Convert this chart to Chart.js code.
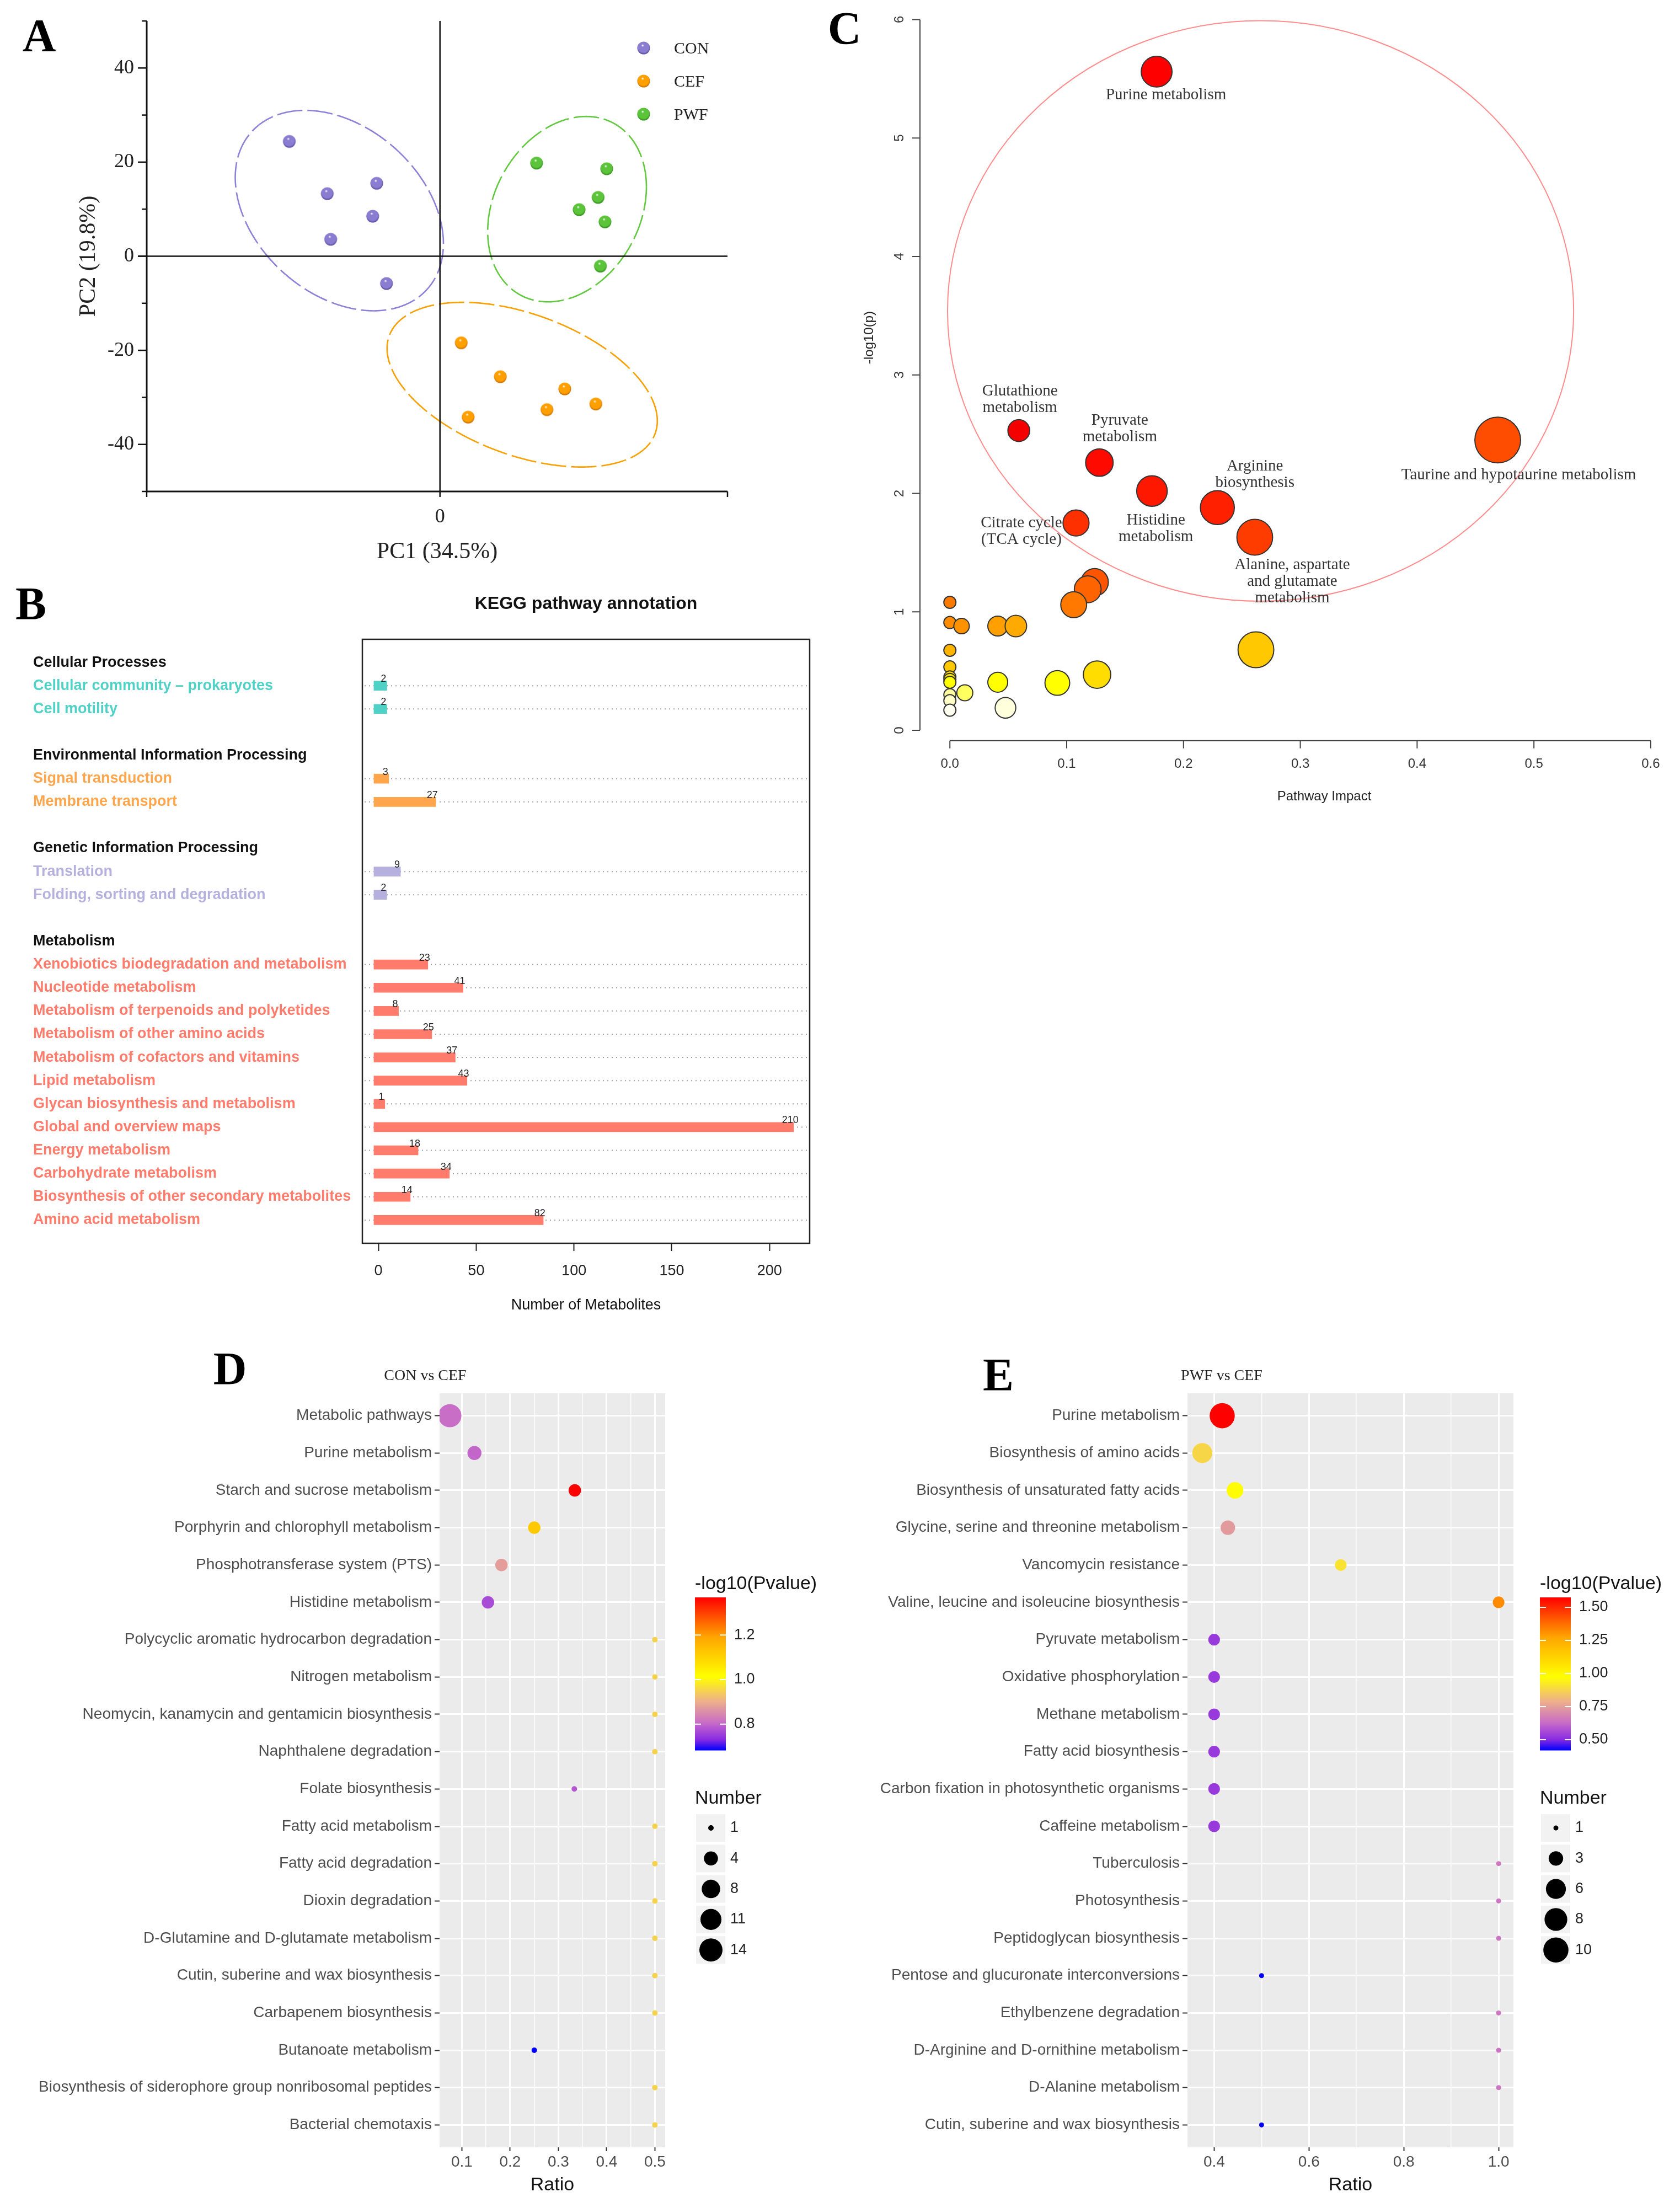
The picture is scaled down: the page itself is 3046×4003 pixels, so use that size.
<!DOCTYPE html>
<html>
<head>
<meta charset="utf-8">
<title>Metabolomics figure</title>
<script src="https://cdn.jsdelivr.net/npm/chart.js@4.4.1/dist/chart.umd.min.js"></script>
<style>
  html, body { margin: 0; padding: 0; background: #fff; }
  #page { position: relative; width: 3046px; height: 4003px; background: #fff; overflow: hidden; }
  #page canvas { position: absolute; }
</style>
</head>
<body>
<div id="page">
  <canvas id="pcaChart" width="1420" height="1040" style="left:0;top:0;width:1420px;height:1040px"></canvas>
  <canvas id="keggChart" width="1500" height="1380" style="left:0;top:1040px;width:1500px;height:1380px"></canvas>
  <canvas id="topoChart" width="1560" height="1500" style="left:1486px;top:0;width:1560px;height:1500px"></canvas>
  <canvas id="conCefChart" width="1520" height="1563" style="left:0;top:2440px;width:1520px;height:1563px"></canvas>
  <canvas id="pwfCefChart" width="1526" height="1563" style="left:1520px;top:2440px;width:1526px;height:1563px"></canvas>
</div>
<script>
// ---------- A: PCA scores ----------
const pcaGroups = ['CON', 'CEF', 'PWF'];
const conPC1 = [-26.2, -19.6, -11.0, -11.7, -19.0, -9.3];
const conPC2 = [24.4, 13.3, 15.5, 8.5, 3.6, -5.8];
const cefPC1 = [3.7, 10.5, 21.7, 27.1, 18.6, 4.9];
const cefPC2 = [-18.4, -25.6, -28.2, -31.4, -32.6, -34.2];
const pwfPC1 = [16.8, 29.0, 27.5, 24.2, 28.7, 27.9];
const pwfPC2 = [19.8, 18.6, 12.5, 9.9, 7.3, -2.1];
const pc2TickValues = [-40, -20, 0, 20, 40];
// group ellipses: centre, half range on PC1 / PC2, correlation
const ellPC1 = [-17.5, 14.3, 22.1];
const ellPC2 = [9.7, -27.3, 10.0];
const ellHalf1 = [18.1, 23.5, 13.8];
const ellHalf2 = [21.3, 17.5, 19.7];
const ellCorr = [-0.33, -0.44, 0.24];

// ---------- B: KEGG annotation ----------
const keggClasses = ['Cellular Processes', 'Environmental Information Processing', 'Genetic Information Processing', 'Metabolism'];
const keggTerms = [
  ['Cellular community – prokaryotes', 'Cell motility'],
  ['Signal transduction', 'Membrane transport'],
  ['Translation', 'Folding, sorting and degradation'],
  ['Xenobiotics biodegradation and metabolism', 'Nucleotide metabolism', 'Metabolism of terpenoids and polyketides',
   'Metabolism of other amino acids', 'Metabolism of cofactors and vitamins', 'Lipid metabolism',
   'Glycan biosynthesis and metabolism', 'Global and overview maps', 'Energy metabolism',
   'Carbohydrate metabolism', 'Biosynthesis of other secondary metabolites', 'Amino acid metabolism']
];
const keggCounts = [[2, 2], [3, 27], [9, 2], [23, 41, 8, 25, 37, 43, 1, 210, 18, 34, 14, 82]];
const keggTicks = [0, 50, 100, 150, 200];

// ---------- C: pathway topology ----------
const topoImpact = [0.177, 0.059, 0.128, 0.173, 0.229, 0.261, 0.469, 0.108, 0.124, 0.118, 0.106,
  0, 0, 0.010, 0.041, 0.0565, 0, 0.262, 0, 0, 0, 0, 0.041, 0.092, 0.126, 0.0128, 0, 0, 0, 0.0476];
const topoLogP = [5.56, 2.53, 2.26, 2.02, 1.88, 1.63, 2.45, 1.75, 1.25, 1.19, 1.06,
  1.08, 0.91, 0.88, 0.88, 0.88, 0.675, 0.68, 0.535, 0.45, 0.43, 0.405, 0.406, 0.40, 0.47, 0.317, 0.30, 0.25, 0.17, 0.19];
const topoXTicks = [0, 0.1, 0.2, 0.3, 0.4, 0.5, 0.6];
const topoYTicks = [0, 1, 2, 3, 4, 5, 6];

// ---------- D: CON vs CEF ----------
const conCefPathways = ['Metabolic pathways', 'Purine metabolism', 'Starch and sucrose metabolism',
  'Porphyrin and chlorophyll metabolism', 'Phosphotransferase system (PTS)', 'Histidine metabolism',
  'Polycyclic aromatic hydrocarbon degradation', 'Nitrogen metabolism', 'Neomycin, kanamycin and gentamicin biosynthesis',
  'Naphthalene degradation', 'Folate biosynthesis', 'Fatty acid metabolism', 'Fatty acid degradation', 'Dioxin degradation',
  'D-Glutamine and D-glutamate metabolism', 'Cutin, suberine and wax biosynthesis', 'Carbapenem biosynthesis',
  'Butanoate metabolism', 'Biosynthesis of siderophore group nonribosomal peptides', 'Bacterial chemotaxis'];
const conCefRatio = [0.075, 0.126, 0.334, 0.25, 0.182, 0.154, 0.5, 0.5, 0.5, 0.5, 0.333, 0.5, 0.5, 0.5, 0.5, 0.5, 0.5, 0.25, 0.5, 0.5];
const conCefNumber = [14, 4, 3, 3, 3, 3, 1, 1, 1, 1, 1, 1, 1, 1, 1, 1, 1, 1, 1, 1];
const conCefLogP = [0.81, 0.80, 1.369, 1.12, 0.876, 0.768, 0.95, 0.95, 0.95, 0.95, 0.78, 0.95, 0.95, 0.95, 0.95, 0.95, 0.95, 0.683, 0.95, 0.95];
const conCefPTicks = [0.8, 1.0, 1.2];

// ---------- E: PWF vs CEF ----------
const pwfCefPathways = ['Purine metabolism', 'Biosynthesis of amino acids', 'Biosynthesis of unsaturated fatty acids',
  'Glycine, serine and threonine metabolism', 'Vancomycin resistance', 'Valine, leucine and isoleucine biosynthesis',
  'Pyruvate metabolism', 'Oxidative phosphorylation', 'Methane metabolism', 'Fatty acid biosynthesis',
  'Carbon fixation in photosynthetic organisms', 'Caffeine metabolism', 'Tuberculosis', 'Photosynthesis',
  'Peptidoglycan biosynthesis', 'Pentose and glucuronate interconversions', 'Ethylbenzene degradation',
  'D-Arginine and D-ornithine metabolism', 'D-Alanine metabolism', 'Cutin, suberine and wax biosynthesis'];
const pwfCefRatio = [0.417, 0.375, 0.444, 0.429, 0.667, 1.0, 0.4, 0.4, 0.4, 0.4, 0.4, 0.4, 1.0, 1.0, 1.0, 0.5, 1.0, 1.0, 1.0, 0.5];
const pwfCefNumber = [10, 6, 4, 3, 2, 2, 2, 2, 2, 2, 2, 2, 1, 1, 1, 1, 1, 1, 1, 1];
const pwfCefLogP = [1.575, 0.88, 0.98, 0.74, 0.91, 1.32, 0.53, 0.53, 0.53, 0.53, 0.53, 0.53, 0.65, 0.65, 0.65, 0.421, 0.65, 0.65, 0.65, 0.421];
const pwfCefPTicks = [0.5, 0.75, 1.0, 1.25, 1.5];

// ---------- styles ----------
const SANS = '"Liberation Sans", Arial, Helvetica, sans-serif';
const SERIF = '"Liberation Serif", "Times New Roman", Times, serif';
const pcaFill = ['#8a7cd0', '#ffa000', '#5cc43a'];
const pcaShade = ['#5a4ba2', '#c97000', '#2f8e18'];
const pcaRing = ['#8c80d8', '#f7a000', '#62c840'];
const keggColors = ['#4fd1c5', '#ffa64d', '#b6b0df', '#ff7b6b'];
const topoFill = ['#ff0000', '#f50000', '#ff0a00', '#ff1800', '#ff2000', '#ff3c00', '#ff4d00', '#ff3000', '#ff5500', '#ff6400', '#ff7800',
  '#fa7a00', '#ff8c00', '#ff9200', '#ffa000', '#ffaa00', '#ffb400', '#ffc800', '#ffc800', '#ffd800', '#ffe800', '#ffff00',
  '#ffff00', '#ffff00', '#ffdd00', '#ffff60', '#ffffa0', '#ffffc8', '#fffff0', '#ffffdc'];
const heatStops = [[0, '#0000ff'], [0.07, '#8a2be2'], [0.18, '#c86cc8'], [0.32, '#eeb08a'], [0.48, '#ffff00'], [0.74, '#ffa500'], [1, '#ff0000']];

const baseOpts = { responsive: false, animation: false, devicePixelRatio: 1, events: [],
  plugins: { legend: { display: false }, tooltip: { enabled: false } } };

function drawText(ctx, s, x, y, font, color, align = 'center', rot = 0) {
  ctx.save(); ctx.translate(x, y); if (rot) ctx.rotate(rot);
  ctx.font = font; ctx.fillStyle = color; ctx.textAlign = align; ctx.textBaseline = 'middle';
  ctx.fillText(s, 0, 0); ctx.restore();
}
const hexRgb = h => [1, 3, 5].map(i => parseInt(h.slice(i, i + 2), 16));
function heatColour(t) {
  t = Math.max(0, Math.min(1, t));
  for (let i = 1; i < heatStops.length; i++) {
    if (t <= heatStops[i][0]) {
      const a = hexRgb(heatStops[i - 1][1]), b = hexRgb(heatStops[i][1]);
      const f = (t - heatStops[i - 1][0]) / (heatStops[i][0] - heatStops[i - 1][0]);
      return 'rgb(' + a.map((v, k) => Math.round(v + (b[k] - v) * f)).join(',') + ')';
    }
  }
  return heatStops[heatStops.length - 1][1];
}
function ballImage(fill, shade) {
  const c = document.createElement('canvas'); c.width = 26; c.height = 26;
  const g = c.getContext('2d');
  const grad = g.createRadialGradient(11, 8, 0.3, 13, 12, 12);
  grad.addColorStop(0, 'rgba(255,255,255,0.95)'); grad.addColorStop(0.2, fill); grad.addColorStop(0.8, fill); grad.addColorStop(1, shade);
  g.fillStyle = grad; g.beginPath(); g.arc(13, 13, 11.5, 0, Math.PI * 2); g.fill();
  return c;
}

// ---------- A ----------
function drawPca() {
  const balls = pcaFill.map((f, k) => ballImage(f, pcaShade[k]));
  const xs = [conPC1, cefPC1, pwfPC1], ys = [conPC2, cefPC2, pwfPC2];
  const decor = {
    id: 'pcaDecor',
    beforeDatasetsDraw(chart) {
      const { ctx, chartArea: a, scales: { x, y } } = chart;
      ctx.save();
      pcaGroups.forEach((g, k) => {
        const s = Math.sqrt(1 - ellCorr[k] * ellCorr[k]);
        ctx.beginPath();
        for (let i = 0; i <= 720; i++) {
          const t = i / 720 * Math.PI * 2;
          const px = x.getPixelForValue(ellPC1[k] + ellHalf1[k] * Math.cos(t));
          const py = y.getPixelForValue(ellPC2[k] + ellHalf2[k] * (ellCorr[k] * Math.cos(t) + s * Math.sin(t)));
          if (i) ctx.lineTo(px, py); else ctx.moveTo(px, py);
        }
        ctx.strokeStyle = pcaRing[k]; ctx.lineWidth = 2.6; ctx.setLineDash([46, 9]); ctx.stroke();
      });
      ctx.setLineDash([]); ctx.strokeStyle = '#111';
      const x0 = x.getPixelForValue(0), y0 = y.getPixelForValue(0);
      ctx.lineWidth = 2.5;
      ctx.beginPath(); ctx.moveTo(x0, a.top); ctx.lineTo(x0, a.bottom); ctx.moveTo(a.left - 16, y0); ctx.lineTo(a.right, y0); ctx.stroke();
      ctx.lineWidth = 3;
      ctx.beginPath(); ctx.moveTo(a.left, a.top); ctx.lineTo(a.left, a.bottom); ctx.lineTo(a.right, a.bottom); ctx.stroke();
      ctx.lineWidth = 2.5;
      for (let v = y.min; v <= y.max; v += 10) {
        const py = y.getPixelForValue(v), len = pc2TickValues.includes(v) ? 16 : 9;
        ctx.beginPath(); ctx.moveTo(a.left - len, py); ctx.lineTo(a.left, py); ctx.stroke();
      }
      [x.min, 0, x.max].forEach(v => {
        const px = x.getPixelForValue(v);
        ctx.beginPath(); ctx.moveTo(px, a.bottom); ctx.lineTo(px, a.bottom + 10); ctx.stroke();
      });
      ctx.restore();
      pc2TickValues.forEach(v => drawText(ctx, String(v), a.left - 23, y.getPixelForValue(v), '36px ' + SERIF, '#222', 'right'));
      drawText(ctx, '0', x0, a.bottom + 47, '36px ' + SERIF, '#222');
      drawText(ctx, 'PC1 (34.5%)', (a.left + a.right) / 2, 1001, '42px ' + SERIF, '#222');
      drawText(ctx, 'PC2 (19.8%)', 161, (a.top + a.bottom) / 2, '42px ' + SERIF, '#222', 'center', -Math.PI / 2);
    },
    afterDatasetsDraw(chart) {
      const ctx = chart.ctx;
      pcaGroups.forEach((g, k) => {
        const yy = 87 + k * 60;
        ctx.drawImage(balls[k], 1167 - 13, yy - 13);
        drawText(ctx, g, 1222, yy + 2, '30px ' + SERIF, '#222', 'left');
      });
      drawText(ctx, 'A', 71, 71, 'bold 84px ' + SERIF, '#000');
    }
  };
  new Chart(document.getElementById('pcaChart'), {
    type: 'scatter',
    data: { datasets: pcaGroups.map((g, k) => ({ label: g, data: xs[k].map((v, i) => ({ x: v, y: ys[k][i] })), pointStyle: balls[k], pointRadius: 12 })) },
    options: Object.assign({}, baseOpts, {
      layout: { autoPadding: false, padding: { left: 266, right: 101, top: 38, bottom: 149 } },
      scales: { x: { type: 'linear', min: -51, max: 50, display: false }, y: { type: 'linear', min: -50, max: 50, display: false } }
    }),
    plugins: [decor]
  });
}

// ---------- B ----------
function drawKegg() {
  const rows = []; let r = 0;
  keggClasses.forEach((cls, g) => {
    rows.push({ row: r++, text: cls, group: g, header: true });
    keggTerms[g].forEach((t, i) => rows.push({ row: r++, text: t, group: g, count: keggCounts[g][i] }));
    r++;
  });
  const lastRow = r - 2;
  const items = rows.filter(o => !o.header);
  const CAP = 2.3; // bars are drawn as thick segments with square ends
  const decor = {
    id: 'keggDecor',
    beforeDatasetsDraw(chart) {
      const { ctx, chartArea: a, scales: { y } } = chart;
      ctx.save(); ctx.strokeStyle = '#a0a0a0'; ctx.lineWidth = 2; ctx.setLineDash([2, 6]);
      items.forEach(it => { const py = y.getPixelForValue(it.row); ctx.beginPath(); ctx.moveTo(a.left + 4, py); ctx.lineTo(a.right - 4, py); ctx.stroke(); });
      ctx.restore();
    },
    afterDatasetsDraw(chart) {
      const { ctx, chartArea: a, scales: { x, y } } = chart;
      ctx.save(); ctx.strokeStyle = '#222'; ctx.lineWidth = 2.5; ctx.strokeRect(a.left, a.top, a.right - a.left, a.bottom - a.top); ctx.restore();
      rows.forEach(o => drawText(ctx, o.text, 60, y.getPixelForValue(o.row), 'bold 27px ' + SANS, o.header ? '#111' : keggColors[o.group], 'left'));
      items.forEach(it => drawText(ctx, String(it.count), x.getPixelForValue(it.count) + 2, y.getPixelForValue(it.row) - 12, '18px ' + SANS, '#222'));
      drawText(ctx, 'KEGG pathway annotation', (a.left + a.right) / 2, 55, 'bold 32px ' + SANS, '#111');
      drawText(ctx, 'Number of Metabolites', (a.left + a.right) / 2, 1327, '27px ' + SANS, '#111');
      drawText(ctx, 'B', 56, 61, 'bold 84px ' + SERIF, '#000');
    }
  };
  new Chart(document.getElementById('keggChart'), {
    type: 'bar',
    data: { datasets: [{
      data: items.map(it => ({ x: [-CAP, it.count + CAP], y: it.row })),
      backgroundColor: items.map(it => keggColors[it.group]),
      barThickness: 17, borderWidth: 0
    }] },
    options: Object.assign({}, baseOpts, {
      indexAxis: 'y',
      layout: { autoPadding: false, padding: { left: 657, right: 32, top: 119, bottom: 0 } },
      scales: {
        x: { type: 'linear', min: -8.2, max: 220.5, offset: false,
          afterBuildTicks: s => { s.ticks = keggTicks.map(v => ({ value: v })); },
          afterFit: s => { s.height = 166; },
          grid: { drawOnChartArea: false, offset: false, tickLength: 14, tickColor: '#222', tickWidth: 2 },
          border: { display: false },
          ticks: { autoSkip: false, maxRotation: 0, padding: 20, color: '#222', font: { family: SANS, size: 27 } } },
        y: { type: 'linear', min: -1, max: lastRow + 1, reverse: true, offset: false, grid: { offset: false }, display: false }
      }
    }),
    plugins: [decor]
  });
}

// ---------- C ----------
function drawTopo() {
  const notes = [
    { i: 0, lines: ['Purine metabolism'], dx: 17, dy: 43 },
    { i: 1, lines: ['Glutathione', 'metabolism'], dx: 2, dy: -71 },
    { i: 2, lines: ['Pyruvate', 'metabolism'], dx: 37, dy: -76 },
    { i: 3, lines: ['Histidine', 'metabolism'], dx: 7, dy: 53 },
    { i: 4, lines: ['Arginine', 'biosynthesis'], dx: 68, dy: -75 },
    { i: 5, lines: ['Alanine, aspartate', 'and glutamate', 'metabolism'], dx: 68, dy: 50 },
    { i: 6, lines: ['Taurine and hypotaurine metabolism'], dx: 38, dy: 64 },
    { i: 7, lines: ['Citrate cycle', '(TCA cycle)'], dx: -99, dy: 0 }
  ];
  const radius = v => 11 + 48 * Math.pow(v, 0.6);
  const decor = {
    id: 'topoDecor',
    beforeDatasetsDraw(chart) {
      const { ctx, scales: { x, y } } = chart;
      const cx = x.getPixelForValue(0.266), cy = y.getPixelForValue(3.54);
      ctx.save(); ctx.strokeStyle = '#ff8c8c'; ctx.lineWidth = 2;
      ctx.beginPath(); ctx.ellipse(cx, cy, x.getPixelForValue(0.266 + 0.268) - cx, cy - y.getPixelForValue(3.54 + 2.45), 0, 0, Math.PI * 2); ctx.stroke();
      ctx.restore();
    },
    afterDatasetsDraw(chart) {
      const { ctx, chartArea: a, scales: { x, y } } = chart;
      ctx.save(); ctx.strokeStyle = '#444'; ctx.lineWidth = 2;
      ctx.beginPath();
      ctx.moveTo(a.left, y.getPixelForValue(topoYTicks[0])); ctx.lineTo(a.left, y.getPixelForValue(topoYTicks[topoYTicks.length - 1]));
      topoYTicks.forEach(v => { const py = y.getPixelForValue(v); ctx.moveTo(a.left, py); ctx.lineTo(a.left - 14, py); });
      ctx.moveTo(x.getPixelForValue(topoXTicks[0]), a.bottom); ctx.lineTo(x.getPixelForValue(topoXTicks[topoXTicks.length - 1]), a.bottom);
      topoXTicks.forEach(v => { const px = x.getPixelForValue(v); ctx.moveTo(px, a.bottom); ctx.lineTo(px, a.bottom + 14); });
      ctx.stroke(); ctx.restore();
      topoYTicks.forEach(v => drawText(ctx, String(v), a.left - 37, y.getPixelForValue(v), '24px ' + SANS, '#333', 'center', -Math.PI / 2));
      topoXTicks.forEach(v => drawText(ctx, v.toFixed(1), x.getPixelForValue(v), a.bottom + 43, '24px ' + SANS, '#333'));
      drawText(ctx, 'Pathway Impact', 915, 1444, '24px ' + SANS, '#222');
      drawText(ctx, '-log10(p)', 90, 612, '24px ' + SANS, '#222', 'center', -Math.PI / 2);
      notes.forEach(n => {
        const px = x.getPixelForValue(topoImpact[n.i]), py = y.getPixelForValue(topoLogP[n.i]);
        n.lines.forEach((s, k) => drawText(ctx, s, px + n.dx, py + n.dy + k * 30, '29px ' + SERIF, '#333'));
      });
      drawText(ctx, 'C', 45, 58, 'bold 84px ' + SERIF, '#000');
    }
  };
  new Chart(document.getElementById('topoChart'), {
    type: 'scatter',
    data: { datasets: [{
      data: topoImpact.map((v, i) => ({ x: v, y: topoLogP[i] })),
      pointRadius: c => radius(topoImpact[c.dataIndex]),
      backgroundColor: topoFill, borderColor: '#333', borderWidth: 2
    }] },
    options: Object.assign({}, baseOpts, {
      layout: { autoPadding: false, padding: { left: 182, right: 10.7, top: 13.9, bottom: 157.3 } },
      scales: { x: { type: 'linear', min: -0.0256, max: 0.62, display: false }, y: { type: 'linear', min: -0.087, max: 6.1, display: false } }
    }),
    plugins: [decor]
  });
}

// ---------- D / E ----------
function drawDotPlot(id, o) {
  const lo = Math.min(...o.ratio), hi = Math.max(...o.ratio), pad = (hi - lo) * 0.05;
  const pMin = Math.min(...o.logP), pMax = Math.max(...o.logP);
  const nMin = Math.min(...o.number), nMax = Math.max(...o.number);
  const sizeOf = v => 1 + 5 * Math.sqrt((v - nMin) / (nMax - nMin));
  const radius = v => o.rA * sizeOf(v) + o.rB;
  const colourOf = v => heatColour((v - pMin) / (pMax - pMin));
  const isMajor = v => o.major.some(m => Math.abs(m - v) < 1e-9);
  const breaks = [0, 1, 2, 3, 4].map(i => Math.round(nMin + (nMax - nMin) * i / 4));
  const decor = {
    id: 'dotDecor',
    beforeDraw(chart) {
      const { ctx, chartArea: a } = chart;
      ctx.save(); ctx.fillStyle = '#ebebeb'; ctx.fillRect(a.left, a.top, a.right - a.left, a.bottom - a.top); ctx.restore();
    },
    afterDraw(chart) {
      const { ctx, chartArea: a } = chart;
      drawText(ctx, o.letter, o.letterX, o.letterY, 'bold 84px ' + SERIF, '#000');
      drawText(ctx, o.title, o.titleX, 55, '28px ' + SERIF, '#222');
      drawText(ctx, 'Ratio', (a.left + a.right) / 2, 1522, '34px ' + SANS, '#111');
      const L = o.legendX, top = 456, h = 277, w = 56;
      drawText(ctx, '-log10(Pvalue)', L, 432, '34px ' + SANS, '#111', 'left');
      for (let i = 0; i < h; i++) { ctx.fillStyle = colourOf(pMax - (i + 0.5) / h * (pMax - pMin)); ctx.fillRect(L, top + i, w, 1.5); }
      o.pTicks.forEach(v => {
        const py = top + (pMax - v) / (pMax - pMin) * h;
        ctx.fillStyle = '#fff'; ctx.fillRect(L, py - 1, 11, 2); ctx.fillRect(L + w - 11, py - 1, 11, 2);
        drawText(ctx, v.toFixed(o.pDigits), L + 71, py, '27px ' + SANS, '#222', 'left');
      });
      drawText(ctx, 'Number', L, 821, '34px ' + SANS, '#111', 'left');
      breaks.forEach((b, i) => {
        const cy = 874 + i * 55.3;
        ctx.fillStyle = '#f2f2f2'; ctx.fillRect(L + 2, cy - 25, 53, 50);
        ctx.fillStyle = '#000'; ctx.beginPath(); ctx.arc(L + 29, cy, radius(b), 0, Math.PI * 2); ctx.fill();
        drawText(ctx, String(b), L + 64, cy, '27px ' + SANS, '#222', 'left');
      });
    }
  };
  new Chart(document.getElementById(id), {
    type: 'scatter',
    data: { datasets: [{
      data: o.ratio.map((v, i) => ({ x: v, y: i })),
      pointRadius: c => radius(o.number[c.dataIndex]),
      backgroundColor: c => colourOf(o.logP[c.dataIndex]),
      borderWidth: 0
    }] },
    options: Object.assign({}, baseOpts, {
      layout: { autoPadding: false, padding: { left: 0, right: o.padRight, top: 86, bottom: 0 } },
      scales: {
        x: { type: 'linear', min: lo - pad, max: hi + pad,
          afterBuildTicks: s => { s.ticks = o.major.concat(o.minor).sort((p, q) => p - q).map(v => ({ value: v })); },
          afterFit: s => { s.height = 110; },
          grid: { color: '#fff', lineWidth: c => (c.tick && isMajor(c.tick.value)) ? 3 : 1.5,
            tickColor: c => (c.tick && isMajor(c.tick.value)) ? '#333' : 'rgba(0,0,0,0)', tickWidth: 2, tickLength: 7 },
          border: { display: false },
          ticks: { autoSkip: false, maxRotation: 0, padding: 3, color: '#4d4d4d', font: { family: SANS, size: 28 },
            callback: v => isMajor(v) ? v.toFixed(1) : '' } },
        y: { type: 'linear', min: -0.6, max: o.names.length - 0.4, reverse: true,
          afterBuildTicks: s => { s.ticks = o.names.map((_, i) => ({ value: i })); },
          afterFit: s => { s.width = o.yAxisW; },
          grid: { color: '#fff', lineWidth: 3, tickColor: '#333', tickWidth: 2, tickLength: 9 },
          border: { display: false },
          ticks: { autoSkip: false, padding: 5, color: '#4d4d4d', font: { family: SANS, size: 28 }, callback: v => o.names[v] } }
      }
    }),
    plugins: [decor]
  });
}

drawPca();
drawKegg();
drawTopo();
drawDotPlot('conCefChart', {
  names: conCefPathways, ratio: conCefRatio, number: conCefNumber, logP: conCefLogP,
  major: [0.1, 0.2, 0.3, 0.4, 0.5], minor: [0.15, 0.25, 0.35, 0.45], pTicks: conCefPTicks, pDigits: 1,
  rA: 3.2, rB: 1.8, yAxisW: 797, padRight: 314, legendX: 1260,
  title: 'CON vs CEF', titleX: 771, letter: 'D', letterX: 417, letterY: 48
});
drawDotPlot('pwfCefChart', {
  names: pwfCefPathways, ratio: pwfCefRatio, number: pwfCefNumber, logP: pwfCefLogP,
  major: [0.4, 0.6, 0.8, 1.0], minor: [0.5, 0.7, 0.9], pTicks: pwfCefPTicks, pDigits: 2,
  rA: 3.66, rB: 0.84, yAxisW: 633, padRight: 302, legendX: 1272,
  title: 'PWF vs CEF', titleX: 695, letter: 'E', letterX: 290, letterY: 59
});
</script>
</body>
</html>
